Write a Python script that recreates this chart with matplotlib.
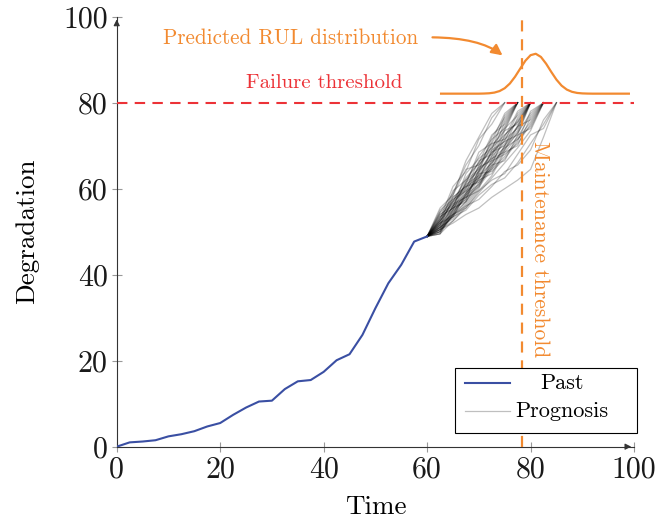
import matplotlib

matplotlib.use("Agg")
import matplotlib.pyplot as plt
from matplotlib.lines import Line2D
from matplotlib.patches import Rectangle

# --- data -----------------------------------------------------------------
past_t = [0, 2.5, 5, 7.5, 10, 12.5, 15, 17.5, 20, 22.5, 25, 27.5, 30, 32.5,
          35, 37.5, 40, 42.5, 45, 47.5, 50, 52.5, 55, 57.5, 60]
past_y = [0, 1.0, 1.2, 1.5, 2.4, 2.9, 3.6, 4.7, 5.5, 7.4, 9.1, 10.5, 10.7, 13.4,
          15.2, 15.5, 17.4, 20.1, 21.5, 26.0, 32.2, 38.0, 42.3, 47.7, 48.9]

# prognosis trajectories, sampled every 2.5 time units after t=60 (clipped at 80)
prog_step = 2.5
prognosis = [
    [54.5, 59.0, 65.5, 70.0, 76.5, 80],
    [53.0, 60.5, 64.0, 71.5, 75.0, 80],
    [55.5, 58.5, 66.5, 72.0, 77.5, 80],
    [52.5, 57.0, 62.5, 66.0, 72.5, 75.0, 80],
    [54.0, 56.5, 61.0, 68.5, 70.5, 76.0, 80],
    [51.5, 58.0, 60.5, 65.0, 71.0, 77.5, 80],
    [53.5, 55.5, 63.5, 67.0, 69.5, 74.5, 80],
    [52.0, 59.5, 62.0, 64.5, 70.0, 73.5, 80],
    [55.0, 57.5, 60.0, 66.5, 68.0, 75.5, 80],
    [50.5, 56.0, 61.5, 67.5, 71.5, 74.0, 80],
    [53.0, 58.5, 64.5, 65.5, 69.0, 77.0, 80],
    [54.5, 57.0, 59.5, 64.0, 72.0, 76.5, 80],
    [51.0, 54.5, 59.0, 62.5, 66.0, 71.5, 74.0, 80],
    [52.5, 56.5, 58.0, 63.5, 68.5, 70.0, 76.5, 80],
    [50.5, 55.0, 60.5, 61.5, 65.5, 72.5, 75.5, 80],
    [53.5, 55.5, 57.5, 64.5, 67.0, 69.5, 73.0, 80],
    [51.5, 57.5, 59.5, 62.0, 69.0, 71.0, 77.5, 80],
    [52.0, 54.0, 60.0, 65.0, 66.5, 73.5, 75.0, 80],
    [54.0, 56.0, 61.0, 63.0, 67.5, 70.5, 74.5, 80],
    [50.0, 55.5, 58.5, 64.0, 68.0, 72.0, 78.0, 80],
    [52.5, 57.0, 62.0, 66.0, 70.5, 71.5, 76.0, 80],
    [51.0, 53.5, 57.0, 61.0, 65.0, 70.0, 73.5, 80],
    [53.0, 58.0, 60.5, 62.5, 67.5, 74.0, 77.0, 80],
    [51.5, 56.0, 59.0, 65.5, 69.5, 72.5, 75.5, 80],
    [49.5, 54.0, 58.5, 63.0, 66.0, 69.0, 74.5, 80],
    [52.0, 55.0, 61.5, 64.0, 68.5, 71.0, 72.5, 80],
    [51.0, 53.0, 56.5, 60.5, 64.5, 67.5, 71.5, 75.5, 80],
    [50.0, 54.5, 58.0, 59.5, 63.0, 68.5, 70.0, 76.5, 80],
    [52.5, 55.5, 57.0, 61.5, 65.5, 66.5, 72.5, 74.0, 80],
    [50.5, 53.5, 59.0, 62.0, 63.5, 69.0, 73.0, 77.5, 80],
    [51.5, 54.0, 56.0, 60.0, 66.5, 68.0, 70.5, 75.0, 80],
    [49.5, 55.0, 57.5, 63.5, 64.0, 67.0, 71.0, 78.0, 80],
    [52.0, 53.5, 58.5, 61.0, 65.0, 70.0, 74.5, 76.0, 80],
    [50.5, 52.5, 55.5, 59.0, 62.5, 66.0, 69.5, 73.5, 80],
    [51.0, 56.0, 58.0, 60.5, 67.0, 68.5, 72.0, 77.0, 80],
    [50.0, 54.0, 57.0, 62.5, 64.5, 69.5, 71.5, 74.5, 80],
    [50.5, 52.0, 54.0, 55.5, 58.0, 60.0, 62.0, 64.5, 72.0, 80],
    [51.0, 53.5, 55.0, 58.5, 61.0, 62.5, 66.0, 70.5, 75.0, 80],
    [49.5, 52.5, 56.0, 57.5, 60.5, 64.0, 65.5, 69.0, 76.0, 80],
    [50.0, 54.0, 55.5, 59.5, 62.0, 63.5, 68.0, 72.5, 74.0, 80],
]

# predicted RUL distribution curve drawn above the threshold
rul_t = [62.7, 70, 71, 72, 73, 74, 75, 76, 77, 78, 79, 80, 81, 82, 83, 84,
         85, 86, 87, 88, 89, 90, 91, 92, 99]
rul_y = [82.1, 82.1, 82.13, 82.19, 82.35, 82.7, 83.36, 84.46, 86.04, 87.93,
         89.77, 91.05, 91.38, 90.64, 89.07, 87.16, 85.36, 83.96, 83.05, 82.53,
         82.27, 82.16, 82.12, 82.1, 82.1]

failure_level = 80
maintenance_time = 78.3

BLUE = "#3A4FA3"
ORANGE = "#F28A30"
RED = "#EC3237"
PROG_ALPHA = 0.25

plt.rcParams["font.family"] = "cmr10"
plt.rcParams["mathtext.fontset"] = "cm"
plt.rcParams["axes.unicode_minus"] = False

fig = plt.figure(figsize=(6.55, 5.2), dpi=100)
ax = fig.add_axes([0.1782, 0.141, 0.7898, 0.8269])

t0, y0 = past_t[-1], past_y[-1]
for traj in prognosis:
    ts = [t0 + prog_step * k for k in range(len(traj) + 1)]
    ax.plot(ts, [y0] + traj, color="black", alpha=PROG_ALPHA, lw=0.9, zorder=2)

ax.plot(past_t, past_y, color=BLUE, lw=1.5, zorder=3)

ax.axhline(failure_level, color=RED, lw=1.5, ls=(0, (5, 3.5)), zorder=4)
ax.plot([maintenance_time, maintenance_time], [0, 100], color=ORANGE, lw=1.6,
        ls=(0, (5, 3.5)), zorder=4)
ax.plot(rul_t, rul_y, color=ORANGE, lw=1.6, zorder=4)

ax.text(40.2, 84.6, "Failure threshold", color=RED, fontsize=15,
        ha="center", va="center")
ax.text(33.6, 95.0, "Predicted RUL distribution", color=ORANGE, fontsize=15.2,
        ha="center", va="center")
ax.text(81.7, 46.0, "Maintenance threshold", color=ORANGE, fontsize=15.5,
        rotation=-90, ha="center", va="center")
ax.annotate("", xy=(75.0, 90.6), xytext=(60.5, 95.2),
            arrowprops=dict(arrowstyle="-|>", color=ORANGE, lw=1.6,
                            mutation_scale=16,
                            connectionstyle="angle3,angleA=0,angleB=-40"))

ax.set_xlim(0, 100)
ax.set_ylim(0, 100)
ax.set_xticks(range(0, 101, 20))
ax.set_yticks(range(0, 101, 20))
ax.tick_params(direction="inout", length=7, width=0.8, color="#999999",
               labelsize=21.5, pad=3, labelcolor="#1a1a1a")
for side in ("top", "right"):
    ax.spines[side].set_visible(False)
for side in ("left", "bottom"):
    ax.spines[side].set_color("#333333")
    ax.spines[side].set_linewidth(0.8)

# arrow heads at the ends of the axis lines
for tip, tail in (((1.0, 0), (0.98, 0)), ((0, 1.0), (0, 0.98))):
    ax.annotate("", xy=tip, xytext=tail, xycoords="axes fraction",
                arrowprops=dict(arrowstyle="-|>", color="#333333", lw=0.8,
                                mutation_scale=9), annotation_clip=False)

ax.set_xlabel("Time", fontsize=19.5, labelpad=9)
ax.set_ylabel("Degradation", fontsize=19.5, labelpad=17)

# legend box: handle on the left, label centred in the text column
tr = ax.transAxes
ax.add_patch(Rectangle((0.654, 0.032), 0.352, 0.151, transform=tr,
                       facecolor="white", edgecolor="black", lw=0.8,
                       zorder=6, clip_on=False))
ax.add_line(Line2D([0.673, 0.760], [0.148, 0.148], transform=tr, color=BLUE,
                   lw=1.5, zorder=7, clip_on=False))
ax.add_line(Line2D([0.673, 0.760], [0.083, 0.083], transform=tr, color="black",
                   alpha=PROG_ALPHA, lw=0.9, zorder=7, clip_on=False))
ax.text(0.861, 0.148, "Past", transform=tr, fontsize=16, ha="center",
        va="center", zorder=7)
ax.text(0.861, 0.083, "Prognosis", transform=tr, fontsize=16, ha="center",
        va="center", zorder=7)

fig.savefig("out.png", dpi=100)
